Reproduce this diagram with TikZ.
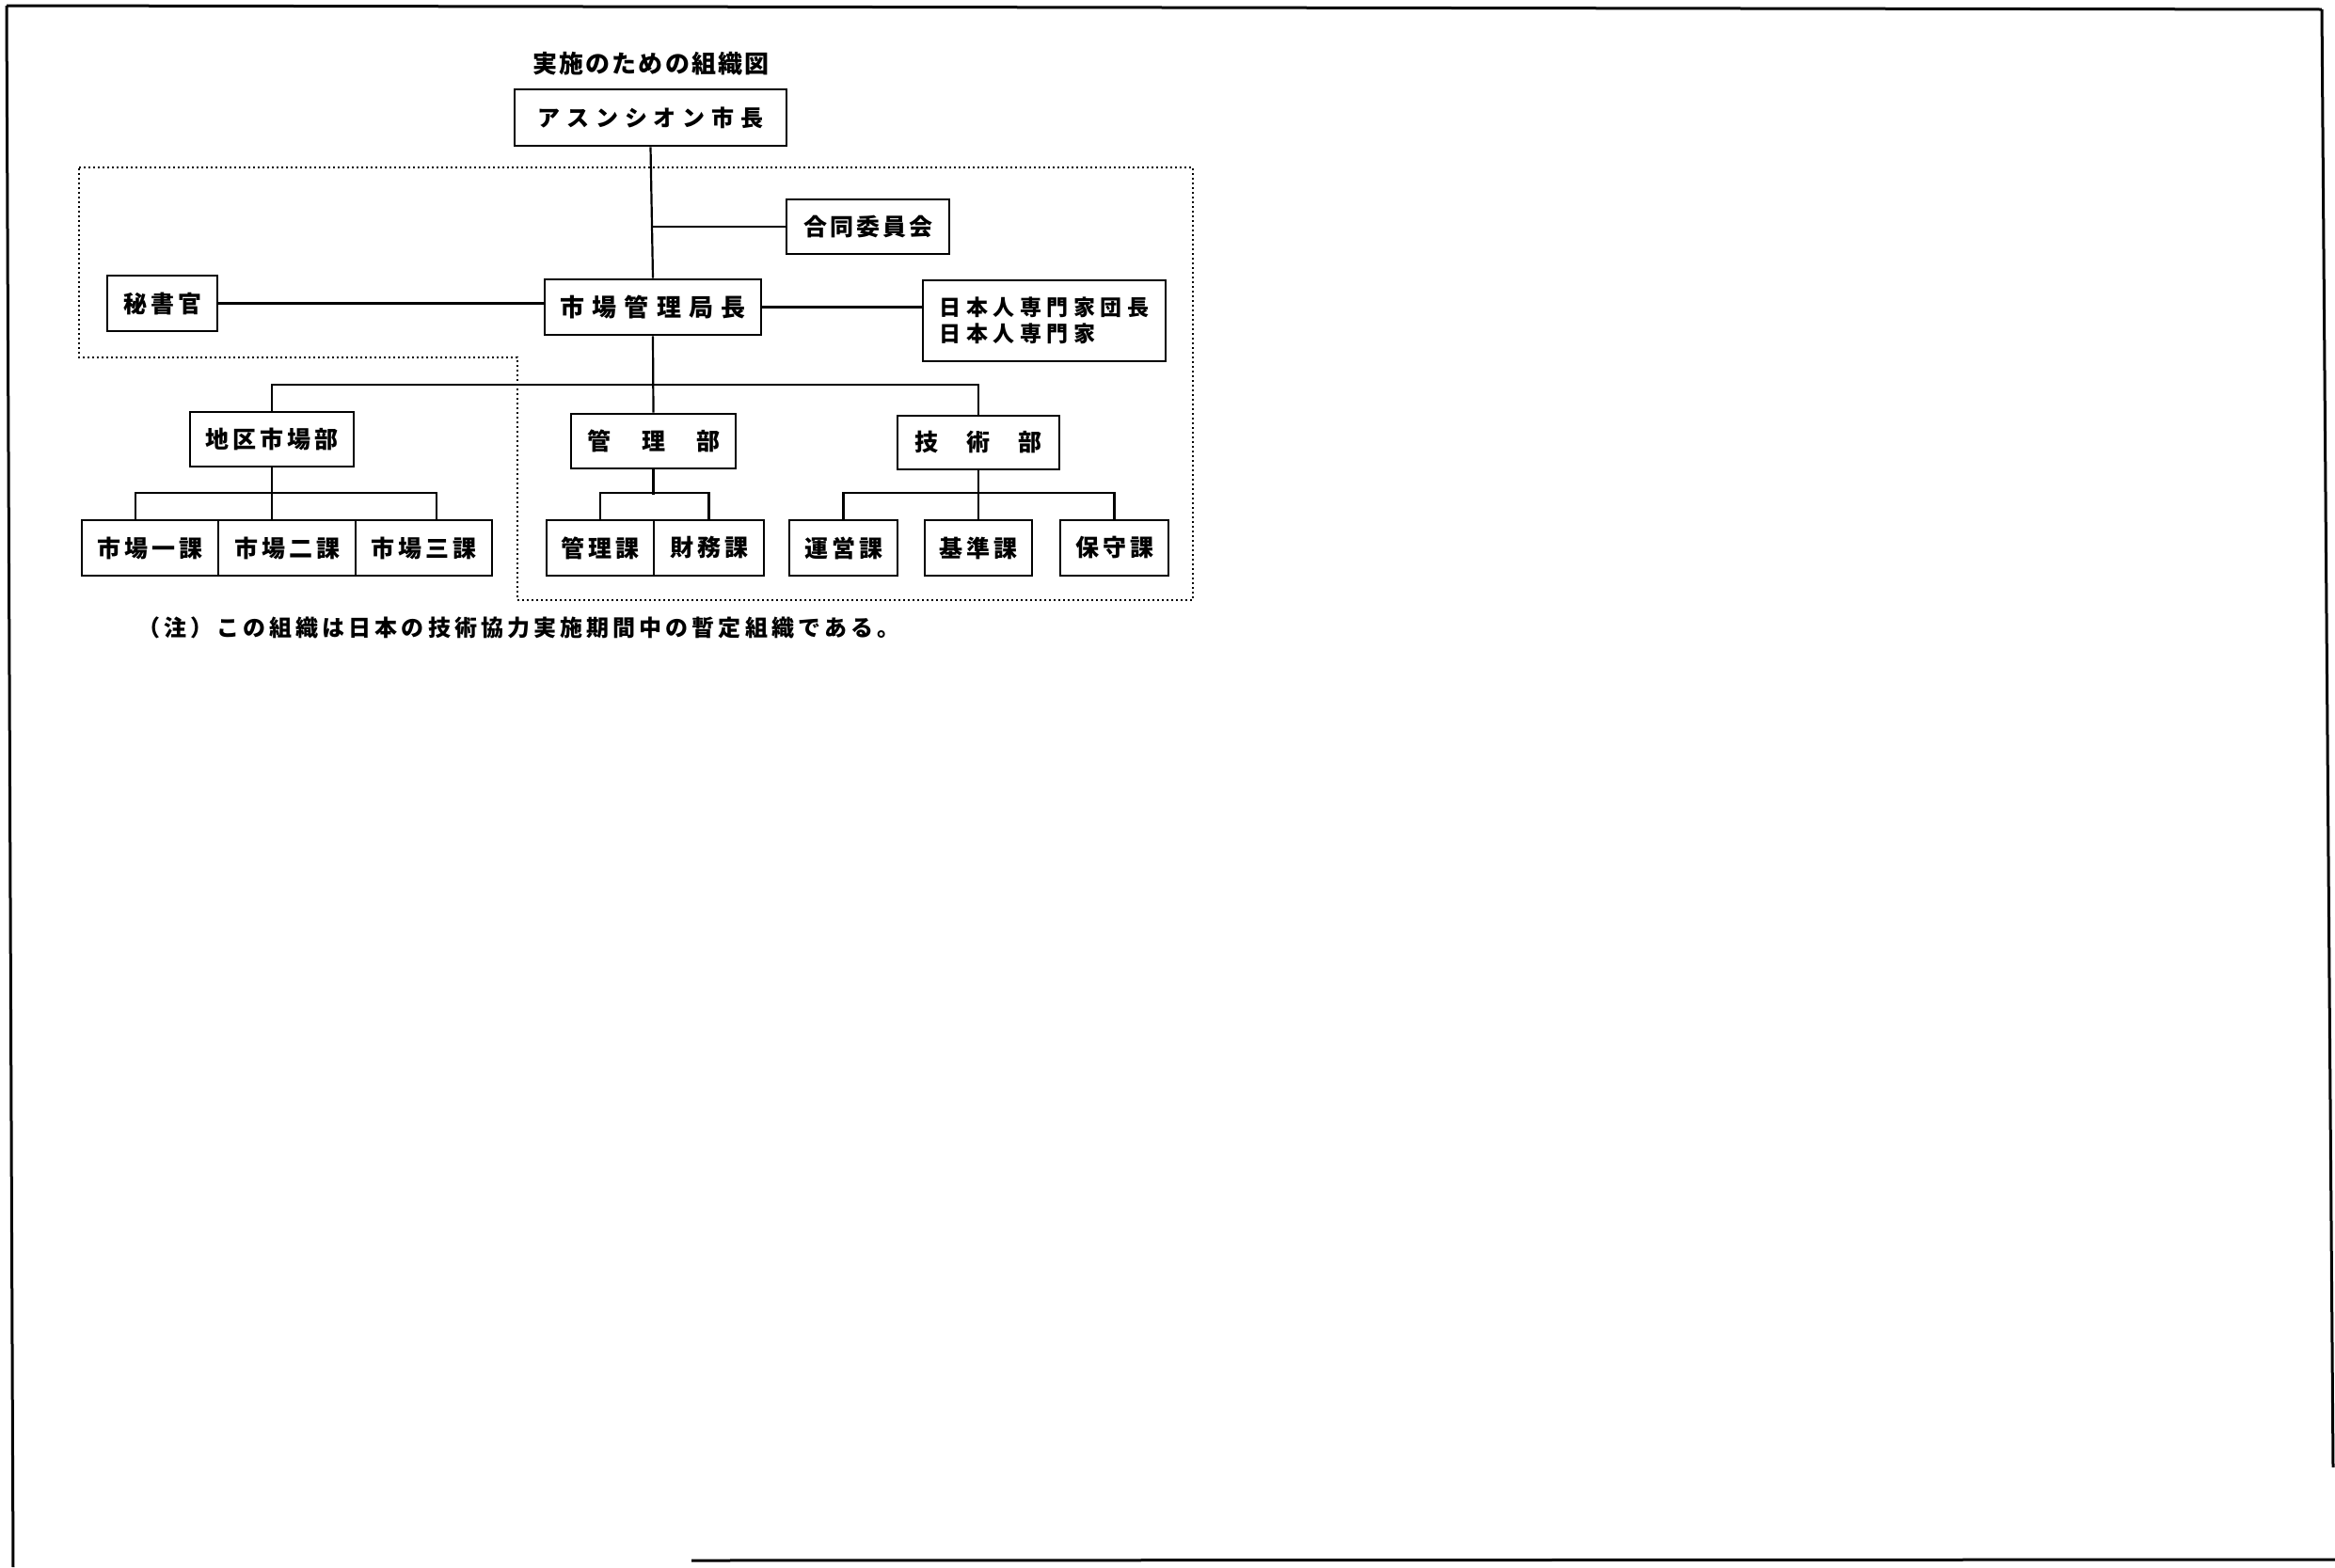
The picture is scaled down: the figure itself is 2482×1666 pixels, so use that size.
\documentclass[tikz,border=0pt]{standalone}
\usepackage{fontspec}
\newfontfamily\jp{Noto Sans CJK JP}
\usetikzlibrary{calc}
\newcommand\jpf[2]{\jp\bfseries\fontsize{#1pt}{#1pt}\selectfont\addfontfeatures{LetterSpace=#2}}
\tikzset{
  box/.style={draw, line width=2.6pt, inner sep=0pt, anchor=center},
  conn/.style={line width=2.2pt},
  zone/.style={line width=2pt, dash pattern=on 1.6pt off 3.4pt},
  frame/.style={line width=3pt}
}
\begin{document}
\begin{tikzpicture}[x=1pt,y=-1pt]
\useasboundingbox (0,0) rectangle (2482,1666);
% scan frame
\draw[frame] (7,6) -- (2468,10);
\draw[frame] (7,6) -- (14,1666);
\draw[frame] (2468,10) -- (2480,1560);
\draw[frame] (735,1659) -- (2482,1658);
% dotted zone
\draw[zone] (84,178) -- (1268,178) -- (1268,638) -- (550,638) -- (550,380) -- (84,380) -- cycle;
% title
\node (title) at (692,68) {\jpf{26}{8}実施のための組織図};
% boxes
\node[box, minimum width=289pt, minimum height=60pt] (mayor) at (691.5,125) {\jpf{24}{29}アスンシオン市長};
\node[box, minimum width=173pt, minimum height=58pt] (joint) at (922.5,241) {\jpf{25}{12}合同委員会};
\node[box, minimum width=117pt, minimum height=59pt] (sec) at (172.5,322.5) {\jpf{25}{16}秘書官};
\node[box, minimum width=230pt, minimum height=59pt] (dir) at (694,326.5) {\jpf{26}{31}市場管理局長};
\node[box, minimum width=258pt, minimum height=86pt, align=left,
      font={\jp\bfseries\fontsize{23pt}{28.5pt}\selectfont\addfontfeatures{LetterSpace=24}}]
      (jp) at (1110,341) {日本人専門家団長\\日本人専門家};
\node[box, minimum width=174pt, minimum height=58pt] (chiku) at (289,467) {\jpf{25}{16}地区市場部};
\node[box, minimum width=175pt, minimum height=58pt] (kanri) at (694.5,469) {\jpf{25}{0}管\hspace{33pt}理\hspace{33pt}部};
\node[box, minimum width=172pt, minimum height=57pt] (gijutsu) at (1040,470.5) {\jpf{25}{0}技\hspace{30pt}術\hspace{30pt}部};
\node[box, minimum width=145pt, minimum height=59pt] (ka1) at (159.5,582.5) {\jpf{25}{16}市場一課};
\node[box, minimum width=146pt, minimum height=59pt] (ka2) at (305,582.5) {\jpf{25}{16}市場二課};
\node[box, minimum width=145pt, minimum height=59pt] (ka3) at (450.5,582.5) {\jpf{25}{16}市場三課};
\node[box, minimum width=114pt, minimum height=59pt] (kk1) at (638,582.5) {\jpf{25}{16}管理課};
\node[box, minimum width=117pt, minimum height=59pt] (kk2) at (753.5,582.5) {\jpf{25}{16}財務課};
\node[box, minimum width=115pt, minimum height=59pt] (unei) at (896.5,582.5) {\jpf{25}{16}運営課};
\node[box, minimum width=114pt, minimum height=59pt] (kijun) at (1040,582.5) {\jpf{25}{16}基準課};
\node[box, minimum width=115pt, minimum height=59pt] (hoshu) at (1184.5,582.5) {\jpf{25}{16}保守課};
% connectors
\draw[conn] (mayor.south) -- (dir.north);
\draw[conn] (dir.north |- joint.west) -- (joint.west);
\draw[conn] (sec.east) -- (sec.east -| dir.west);
\draw[conn] (dir.east) -- (dir.east -| jp.west);
\draw[conn] (dir.south) -- (kanri.north);
\draw[conn] (chiku.north) -- ++(0,-28) -| (gijutsu.north);
\draw[conn] (chiku.south) -- (chiku.south |- ka2.north);
\draw[conn] ([xshift=-15.5pt]ka1.north) -- ++(0,-28) -| ([xshift=13.5pt]ka3.north);
\draw[conn] (kanri.south) -- ++(0,27);
\draw[conn] (kk1.north) -- ++(0,-28) -| (kk2.north);
\draw[conn] (gijutsu.south) -- (kijun.north);
\draw[conn] (unei.north) -- ++(0,-28) -| (hoshu.north);
% note
\node[anchor=west, inner sep=0pt] (note) at (146,667) {\jpf{24}{17}（注）この組織は日本の技術協力実施期間中の暫定組織である。};
\end{tikzpicture}
\end{document}
